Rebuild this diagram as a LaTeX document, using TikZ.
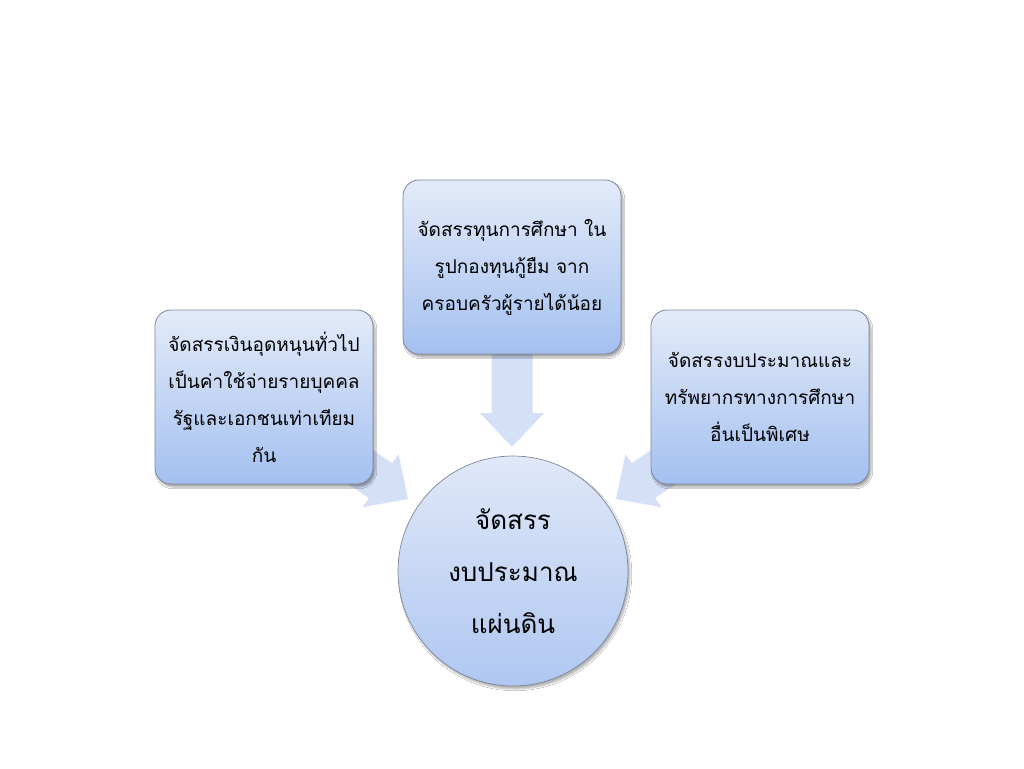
\documentclass[tikz,border=0pt]{standalone}
\usepackage{fontspec}
\newfontfamily\thaifont[Script=Thai]{Loma}
\usetikzlibrary{shadows.blur}
\definecolor{boxtop}{HTML}{E3EBF9}
\definecolor{boxbot}{HTML}{A4C0F0}
\definecolor{circtop}{HTML}{E0E8F8}
\definecolor{circbot}{HTML}{AFC7F1}
\definecolor{bordc}{HTML}{7D8799}
\definecolor{arrc}{HTML}{D3E0F6}
\tikzset{
  boxnode/.style={draw=bordc, line width=0.8pt, rounded corners=16pt,
    minimum width=218pt, minimum height=174pt, top color=boxtop, bottom color=boxbot,
    align=center, font=\thaifont\fontsize{19}{37}\selectfont, text=black,
    blur shadow={shadow xshift=2pt, shadow yshift=-3pt, shadow blur steps=6, shadow opacity=35}},
  circnode/.style={draw=bordc, line width=0.7pt, circle, minimum size=230pt,
    top color=circtop, bottom color=circbot, align=center,
    font=\thaifont\fontsize{26}{52}\selectfont, text=black,
    blur shadow={shadow xshift=2pt, shadow yshift=-3pt, shadow blur steps=6, shadow opacity=30}},
  blockarrow/.style={fill=arrc, draw=none}
}
\begin{document}
\begin{tikzpicture}[x=1pt,y=-1pt]
\useasboundingbox (0,0) rectangle (1024,768);
\fill[white] (0,0) rectangle (1024,768);
% block arrows (beneath nodes)
\coordinate (ltip) at (408,499);
\coordinate (rtip) at (616,499);
\coordinate (dtip) at (512,447);
\fill[blockarrow] (288.5,443.7) -- (368.9,498.0) -- (362.7,507.1) -- (ltip) -- (398.5,454.1) -- (392.3,463.2) -- (311.9,408.9) -- cycle;
\fill[blockarrow] (735.5,443.7) -- (655.1,498.0) -- (661.3,507.1) -- (rtip) -- (625.5,454.1) -- (631.7,463.2) -- (712.1,408.9) -- cycle;
\fill[blockarrow] (491.5,330) -- (491.5,413) -- (480,413) -- (dtip) -- (544,413) -- (532.5,413) -- (532.5,330) -- cycle;
% nodes
\node[boxnode] (top) at (512,267) {จัดสรรทุนการศึกษา ใน\\รูปกองทุนกู้ยืม จาก\\ครอบครัวผู้รายได้น้อย};
\node[boxnode] (left) at (264,397) {จัดสรรเงินอุดหนุนทั่วไป\\เป็นค่าใช้จ่ายรายบุคคล\\รัฐและเอกชนเท่าเทียม\\กัน};
\node[boxnode] (right) at (760,397) {จัดสรรงบประมาณและ\\ทรัพยากรทางการศึกษา\\อื่นเป็นพิเศษ};
\node[circnode] (center) at (513,571) {จัดสรร\\งบประมาณ\\แผ่นดิน};
\end{tikzpicture}
\end{document}
